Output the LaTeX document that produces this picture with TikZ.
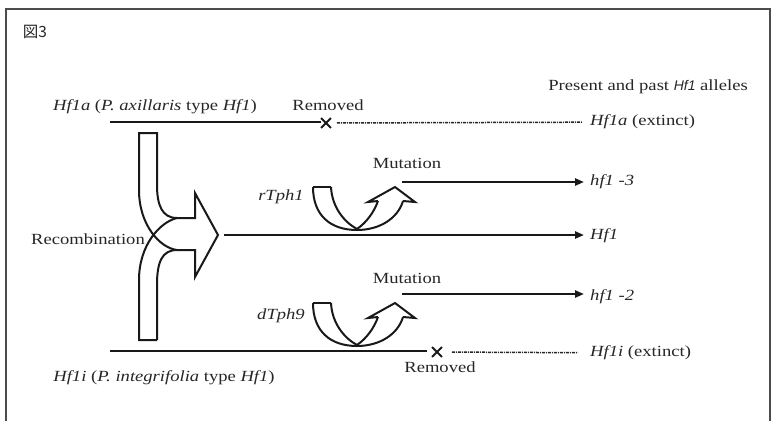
\documentclass[tikz,border=0pt]{standalone}
\usepackage{fontspec}
\setmainfont{Liberation Serif}[FakeStretch=1.2]
\newfontfamily\cjkfont{Noto Sans CJK JP}
\newfontfamily\headsans{Liberation Sans}
\usetikzlibrary{arrows.meta,shapes.misc}
\begin{document}
\begin{tikzpicture}[x=1pt,y=-1pt,
  lbl/.style={inner sep=0pt, text=black!85, font=\fontsize{15.5}{18}\selectfont},
  gene/.style={line width=2.2pt, draw=black!90},
  arr/.style={line width=2.2pt, draw=black!90, -{Triangle[length=9pt,width=7pt]}},
  gone/.style={line width=1.5pt, draw=black!85, dash pattern=on 3pt off 1pt on 1pt off 1pt},
  bigarrow/.style={line width=2pt, draw=black!90, line join=miter},
  xmark/.style={draw=black!90, cross out, line width=1.8pt, minimum size=8pt, inner sep=0pt},
  uarrow/.pic={
    \draw[bigarrow] (0,0) -- (18,0);
    \draw[bigarrow] (0,0) .. controls (0,28) and (17,43) .. (44,43)
                          .. controls (67,43) and (85,31) .. (90,14);
    \draw[bigarrow] (18,0) .. controls (19,20) and (31,35) .. (44,42);
    \draw[bigarrow] (44,42) .. controls (54,35) and (61,25) .. (65,14);
    \draw[bigarrow] (65,14) -- (55,15) -- (82,0) -- (102,15) -- (90,14);
  }]
\useasboundingbox (0,0) rectangle (773,421);

% frame, open at the bottom
\draw[line width=1.6pt, black!70] (6,421) -- (6,9) -- (770,9) -- (770,421);
\node[inner sep=0pt, font=\cjkfont\fontsize{15.5}{17}\selectfont, text=black!85] (fig) at (35,32) {図3};

% heading
\node[lbl] (head) at (648,87) {Present and past {\headsans\itshape\fontsize{14}{16}\selectfont Hf1} alleles};

% P. axillaris branch
\node[lbl] (alab) at (155,107) {\textit{Hf1a} (\textit{P. axillaris} type \textit{Hf1})};
\node[lbl] (arem) at (328,105) {Removed};
\coordinate (a0) at (110,122);
\node[xmark] (xa) at (326,123) {};
\node[lbl, anchor=west] (ea) at (590,122) {\textit{Hf1a} (extinct)};
\draw[gene] (a0) -- (a0 -| xa.west);
\draw[gone, shorten <=6pt, shorten >=8pt] (xa) -- (ea);

% P. integrifolia branch
\node[lbl] (ilab) at (164,378) {\textit{Hf1i} (\textit{P. integrifolia} type \textit{Hf1})};
\node[lbl] (irem) at (440,367) {Removed};
\coordinate (i0) at (110,351);
\node[xmark] (xi) at (437,352) {};
\node[lbl, anchor=west] (ei) at (590,353) {\textit{Hf1i} (extinct)};
\draw[gene, shorten >=5pt] (i0) -- (i0 -| xi.west);
\draw[gone, shorten <=10pt, shorten >=12pt] (xi) -- (ei);

% recombination arrow
\draw[bigarrow] (157,133) -- (139,133) -- (139,190)
  .. controls (139,225) and (160,248) .. (177,250) -- (195,250) -- (195,277)
  -- (218,235) -- (195,193) -- (195,218) -- (177,218)
  .. controls (162,218) and (157,205) .. (157,185) -- cycle;
\draw[bigarrow] (157,340) -- (139,340) -- (139,280)
  .. controls (139,245) and (160,222) .. (177,218);
\draw[bigarrow] (177,250) .. controls (162,250) and (157,262) .. (157,285) -- (157,340);
\coordinate (rtip) at (218,235);
\node[lbl] (rec) at (88,239) {Recombination};
\node[lbl, anchor=west] (hf) at (590,236) {\textit{Hf1}};
\draw[arr, shorten <=6pt, shorten >=6pt] (rtip) -- (rtip -| hf.west);

% rTph1 excision
\pic at (313,187) {uarrow};
\node[lbl] (rt) at (281,197) {\textit{rTph1}};
\node[lbl] (mu3) at (407,163) {Mutation};
\coordinate (m3) at (402,182);
\node[lbl, anchor=west] (h3) at (590,182) {\textit{hf1 -3}};
\draw[arr, shorten >=6pt] (m3) -- (m3 -| h3.west);

% dTph9 excision
\pic at (313,303) {uarrow};
\node[lbl] (dt) at (281,316) {\textit{dTph9}};
\node[lbl] (mu2) at (407,278) {Mutation};
\coordinate (m2) at (402,294);
\node[lbl, anchor=west] (h2) at (590,297) {\textit{hf1 -2}};
\draw[arr, shorten >=6pt] (m2) -- (m2 -| h2.west);
\end{tikzpicture}
\end{document}
